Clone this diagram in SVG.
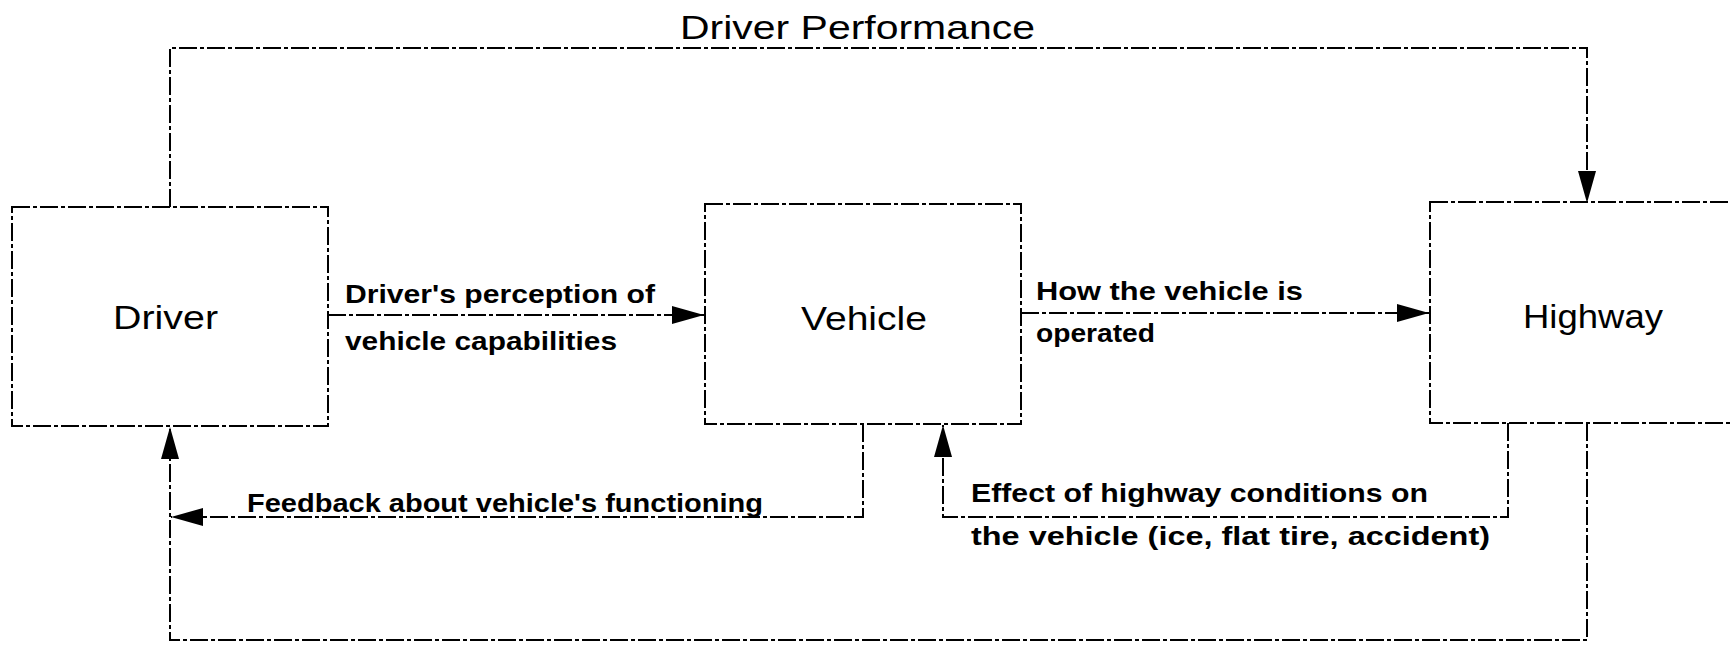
<svg xmlns="http://www.w3.org/2000/svg" width="1730" height="645" viewBox="0 0 1730 645">
<style>
.box{fill:none;stroke:#000;stroke-width:2;stroke-dasharray:18 3 4 3}
.con{fill:none;stroke:#000;stroke-width:2;stroke-dasharray:18 3 4 3}
.node{font-family:"Liberation Sans",Arial,sans-serif;font-size:34px;fill:#000}
.lbl{font-family:"Liberation Sans",Arial,sans-serif;font-size:25px;font-weight:bold;fill:#000}
</style>
<defs>
<marker id="ah" markerUnits="userSpaceOnUse" markerWidth="33" markerHeight="18" refX="32" refY="9" orient="auto">
<path d="M0,0 L32,9 L0,18 Z" fill="#000"/>
</marker>
</defs>
<rect width="1730" height="645" fill="#fff"/>
<g id="connectors">
<path class="con" d="M170,207 V48 H1587 V203" marker-end="url(#ah)"/>
<path class="con" d="M328,315 H704" marker-end="url(#ah)"/>
<path class="con" d="M1021,313 H1429" marker-end="url(#ah)"/>
<path class="con" d="M863,424 V517 H171" marker-end="url(#ah)"/>
<path class="con" d="M1508,423 V517 H943 V425" marker-end="url(#ah)"/>
<path class="con" d="M1587,423 V640 H170 V427" marker-end="url(#ah)"/>
</g>
<g id="label-driver-performance"><text class="node" x="680" y="39" textLength="355" lengthAdjust="spacingAndGlyphs">Driver Performance</text></g>
<g id="label-perception">
<text class="lbl" x="345" y="303" textLength="310" lengthAdjust="spacingAndGlyphs">Driver's perception of</text>
<text class="lbl" x="345" y="350" textLength="272" lengthAdjust="spacingAndGlyphs">vehicle capabilities</text>
</g>
<g id="label-operated">
<text class="lbl" x="1036" y="300" textLength="267" lengthAdjust="spacingAndGlyphs">How the vehicle is</text>
<text class="lbl" x="1036" y="342" textLength="119" lengthAdjust="spacingAndGlyphs">operated</text>
</g>
<g id="label-feedback"><text class="lbl" x="247" y="512" textLength="516" lengthAdjust="spacingAndGlyphs">Feedback about vehicle's functioning</text></g>
<g id="label-effect">
<text class="lbl" x="971" y="502" textLength="457" lengthAdjust="spacingAndGlyphs">Effect of highway conditions on</text>
<text class="lbl" x="971" y="545" textLength="519" lengthAdjust="spacingAndGlyphs">the vehicle (ice, flat tire, accident)</text>
</g>
<g id="node-driver">
<rect class="box" x="12" y="207" width="316" height="219"/>
<text class="node" x="113" y="329" textLength="105" lengthAdjust="spacingAndGlyphs">Driver</text>
</g>
<g id="node-vehicle">
<rect class="box" x="705" y="204" width="316" height="220"/>
<text class="node" x="801" y="330" textLength="126" lengthAdjust="spacingAndGlyphs">Vehicle</text>
</g>
<g id="node-highway">
<rect class="box" x="1430" y="202" width="330" height="221"/>
<text class="node" x="1523" y="328" textLength="140" lengthAdjust="spacingAndGlyphs">Highway</text>
</g>
</svg>
